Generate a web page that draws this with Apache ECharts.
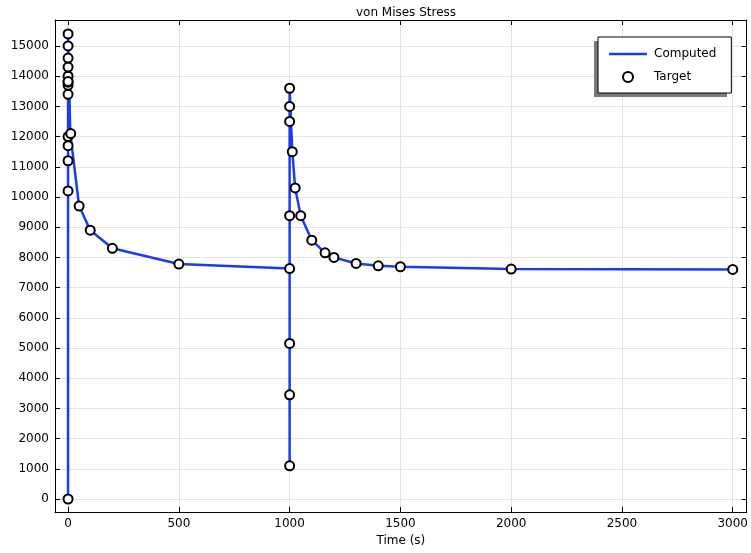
<!DOCTYPE html>
<html><head><meta charset="utf-8">
<script src="https://cdn.jsdelivr.net/npm/echarts@6/dist/echarts.min.js"></script>
<style>html,body{margin:0;padding:0;background:#fff}#c{width:751px;height:553px}</style>
</head><body><div id="c"></div>
<script>
// Computed curve (time s, stress)
const computedT = [0,0,0,0,0,0,0,0,0,0,0,0,0,10,50,100,200,500,1000,1000,1000,1000,1000,1000,1000,1000,1012,1025,1050,1100,1160,1200,1300,1400,1500,2000,3000];
const computedS = [0,10200,11200,11700,12000,13400,13700,13800,14000,14300,14600,15000,15400,12100,9700,8900,8300,7780,7630,1100,3450,5150,9380,12500,13000,13600,11500,10300,9380,8570,8150,8000,7800,7720,7690,7615,7600];
// Target points
const targetT = [0,0,0,0,0,0,0,0,0,0,0,0,0,0,12,50,100,200,500,1000,1000,1000,1000,1000,1000,1000,1000,1012,1025,1050,1100,1160,1200,1300,1400,1500,2000,3000];
const targetS = [0,10200,11200,11700,12000,13400,13700,13800,14000,14300,14600,15000,15400,13820,12100,9700,8900,8300,7780,1100,3450,5150,7630,9380,12500,13000,13600,11500,10300,9380,8570,8150,8000,7800,7720,7690,7615,7600];
const xTicks = [0,500,1000,1500,2000,2500,3000];
const yTicks = [0,1000,2000,3000,4000,5000,6000,7000,8000,9000,10000,11000,12000,13000,14000,15000];

const font = 'DejaVu Sans';
const xMin = -59, xMax = 3063, yMin = -430, yMax = 15860;
function axisBase(pos, ticks, labels, isX) {
  return {
    type: 'value', position: pos, min: isX ? xMin : yMin, max: isX ? xMax : yMax,
    axisLine: {show: true, onZero: false, lineStyle: {color: '#000', width: 1}},
    axisTick: {show: true, inside: true, length: 5, customValues: ticks, lineStyle: {color: '#000'}},
    axisLabel: {show: labels, customValues: ticks, color: '#000', fontFamily: font, fontSize: 12, margin: 6,
      formatter: v => String(v)},
    splitLine: {show: labels, lineStyle: {color: '#e3e3e3', width: 1}},
    minorTick: {show: false}
  };
}
const xa = axisBase('bottom', xTicks, true, true);
xa.name = 'Time (s)'; xa.nameLocation = 'middle'; xa.nameGap = 22;
xa.nameTextStyle = {color: '#000', fontFamily: font, fontSize: 12};
const xa2 = axisBase('top', xTicks, false, true);
const ya = axisBase('left', yTicks, true, false);
const ya2 = axisBase('right', yTicks, false, false);

const chart = echarts.init(document.getElementById('c'), null, {renderer: 'canvas'});
chart.setOption({
  animation: false,
  backgroundColor: '#fff',
  title: {text: 'von Mises Stress', left: 401, textAlign: 'center', top: 2,
    textStyle: {fontFamily: font, fontSize: 12, fontWeight: 'normal', color: '#000'}},
  grid: {left: 55, right: 4, top: 20, bottom: 41, containLabel: false},
  xAxis: [xa, xa2],
  yAxis: [ya, ya2],
  graphic: [{type: 'rect', left: 594, top: 41, shape: {width: 133, height: 56}, style: {fill: '#7a7a7a'}, z: 100}],
  legend: {
    orient: 'vertical', left: 598, top: 37, z: 200,
    padding: [11, 15, 10, 11], itemGap: 11, itemWidth: 38, itemHeight: 10,
    backgroundColor: '#fff', borderColor: '#000', borderWidth: 1, borderRadius: 0,
    textStyle: {fontFamily: font, fontSize: 12, color: '#000', padding: [0, 0, 0, 2]},
    data: [
      {name: 'Computed', icon: 'path://M0,0L38,0L38,2.5L0,2.5Z', itemStyle: {color: '#1a3cf0'}},
      {name: 'Target', icon: 'emptyCircle'}
    ]
  },
  series: [
    {name: 'Computed', type: 'line', symbol: 'none', xAxisIndex: 0, yAxisIndex: 0,
      data: computedT.map((t, i) => [t, computedS[i]]),
      lineStyle: {color: '#1a3cf0', width: 2.5}, itemStyle: {color: '#1a3cf0'}, z: 2},
    {name: 'Target', type: 'scatter', symbol: 'emptyCircle', symbolSize: 9, xAxisIndex: 0, yAxisIndex: 0,
      data: targetT.map((t, i) => [t, targetS[i]]),
      itemStyle: {color: '#000', borderColor: '#000', borderWidth: 1.5, opacity: 1}, z: 3}
  ]
});
</script></body></html>
